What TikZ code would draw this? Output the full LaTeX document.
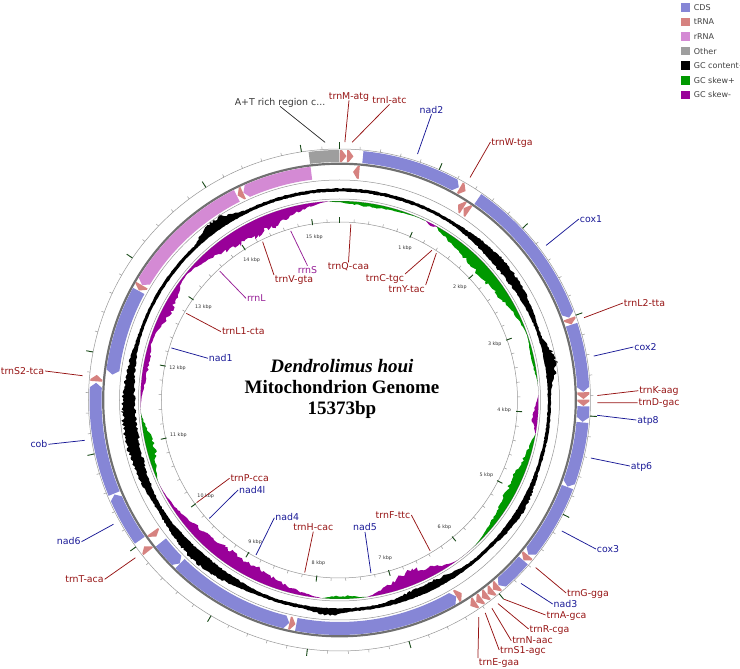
\documentclass[tikz,border=0pt]{standalone}
\usepackage{fontspec}
\usepackage{tikz}
\usetikzlibrary{positioning}
\newfontfamily\labelfont{DejaVu Sans}
\newfontfamily\titlefont{Liberation Serif}

\definecolor{cdsfill}{RGB}{134,134,214}
\definecolor{trnafill}{RGB}{214,130,128}
\definecolor{rrnafill}{RGB}{212,138,212}
\definecolor{otherfill}{RGB}{158,158,158}
\definecolor{skewplus}{RGB}{0,153,0}
\definecolor{skewminus}{RGB}{153,0,153}
\definecolor{trnatext}{RGB}{150,20,20}
\definecolor{cdstext}{RGB}{25,25,150}
\definecolor{rrnatext}{RGB}{150,30,150}
\definecolor{othertext}{RGB}{55,55,55}
\definecolor{ringgray}{RGB}{150,150,150}
\definecolor{backbonegray}{RGB}{112,112,112}
\definecolor{tickgreen}{RGB}{25,75,25}

\tikzset{
  ring/.style={draw=ringgray, line width=0.5pt},
  backbone/.style={draw=backbonegray, line width=2.2pt},
  minortick/.style={draw=ringgray, line width=0.5pt},
  majortick/.style={draw=tickgreen, line width=0.9pt},
  gene/.style={font=\labelfont\fontsize{9.4}{10}\selectfont, inner sep=0.8pt, text height=6.6pt, text depth=0pt},
  cdslabel/.style={gene, text=cdstext},
  trnalabel/.style={gene, text=trnatext},
  rrnalabel/.style={gene, text=rrnatext},
  otherlabel/.style={gene, text=othertext},
  cdsline/.style={draw=cdstext, line width=0.75pt},
  trnaline/.style={draw=trnatext, line width=0.75pt},
  rrnaline/.style={draw=rrnatext, line width=0.75pt},
  otherline/.style={draw=othertext, line width=0.75pt},
  kbplabel/.style={font=\labelfont\fontsize{4.8}{5}\selectfont, text=black!80, inner sep=0pt},
  title/.style={font=\titlefont\bfseries\fontsize{19}{22}\selectfont, inner sep=0pt},
  legbox/.style={minimum width=8.5pt, minimum height=8.5pt, inner sep=0pt},
  legtext/.style={font=\labelfont\fontsize{8}{9}\selectfont, text=black!75, inner sep=0pt, anchor=west}
}

% forward strand: outer slot, arrow points clockwise
\newcommand{\fwdfeat}[3]{%
  \pgfmathsetmacro{\angS}{90-0.0234177*#1}%
  \pgfmathsetmacro{\angE}{90-0.0234177*#2}%
  \pgfmathsetmacro{\angT}{min(\angE+1.1,\angS)}%
  \fill[#3] (\angS:250) arc[start angle=\angS,end angle=\angT,radius=250pt]
    -- (\angE:244) -- (\angT:238) arc[start angle=\angT,end angle=\angS,radius=238pt] -- cycle;}
% reverse strand: inner slot, arrow points counterclockwise
\newcommand{\revfeat}[3]{%
  \pgfmathsetmacro{\angS}{90-0.0234177*#1}%
  \pgfmathsetmacro{\angE}{90-0.0234177*#2}%
  \pgfmathsetmacro{\angT}{max(\angS-1.1,\angE)}%
  \fill[#3] (\angE:235) arc[start angle=\angE,end angle=\angT,radius=235pt]
    -- (\angS:228.5) -- (\angT:222) arc[start angle=\angT,end angle=\angE,radius=222pt] -- cycle;}

\begin{document}
\begin{tikzpicture}[x=1pt,y=1pt,
  declare function={
    bump(\xa,\xb,\xc)=max(0,1-((\xa-\xb)/\xc)^2)^2;
    gcup(\xa)=1.6+4*bump(\xa,52,20)+8*bump(\xa,80,8)+3.5*bump(\xa,122,14)+4*bump(\xa,183,7)+5*bump(\xa,222,20)+6*bump(\xa,262,28)+6*bump(\xa,-98,28)+8*bump(\xa,-35,9);
    gcdown(\xa)=1.6+3*bump(\xa,50,20)+5*bump(\xa,155,16)+3*bump(\xa,220,22)+4*bump(\xa,262,28)+4*bump(\xa,-98,28);
    skew(\xa)=3.5*bump(\xa,10,16)-4*bump(\xa,28,3)+11*bump(\xa,48,26)+3*bump(\xa,78,8)-5*bump(\xa,95,7)+9*bump(\xa,117,22)-13*bump(\xa,158,15)+3*bump(\xa,179,8)-13*bump(\xa,214,32)+8*bump(\xa,256,11)-5*bump(\xa,-80,13)-9*bump(\xa,-62,12)-15*bump(\xa,-28,27);
  }]
  \useasboundingbox (-339.5,-269) rectangle (400.5,400);
  \pgfmathsetseed{4321}

  % GC content and GC skew
  \fill[black] plot[domain=-93:267,samples=721] ({90-\x}:{210+gcup(\x)*(0.75+0.5*rnd)})
    -- plot[domain=267:-93,samples=721] ({90-\x}:{210-gcdown(\x)*(0.75+0.5*rnd)}) -- cycle;
  \fill[skewplus] plot[domain=-93:267,samples=541] ({90-\x}:199)
    -- plot[domain=267:-93,samples=541] ({90-\x}:{199-max(0,skew(\x))*(0.75+0.5*rnd)}) -- cycle;
  \fill[skewminus] plot[domain=-93:267,samples=541] ({90-\x}:199)
    -- plot[domain=267:-93,samples=541] ({90-\x}:{199+min(0,skew(\x))*(0.75+0.5*rnd)}) -- cycle;

  \draw[ring] (0,0) circle[radius=251pt];
  \draw[backbone] (0,0) circle[radius=236.3pt];
  \draw[ring] (0,0) circle[radius=220pt];
  \draw[ring] (0,0) circle[radius=201pt];
  \draw[ring] (0,0) circle[radius=178pt];

  \foreach \k in {0,200,...,15200} {
    \draw[minortick] ({90-0.0234177*\k}:251) -- ({90-0.0234177*\k}:254);
    \draw[minortick] ({90-0.0234177*\k}:178) -- ({90-0.0234177*\k}:181);
  }
  \foreach \k in {0,...,15} {
    \draw[majortick] ({90-23.41768*\k}:251) -- ({90-23.41768*\k}:258);
    \draw[majortick] ({90-23.41768*\k}:177) -- ({90-23.41768*\k}:183);
  }
  \foreach \k in {1,...,15}
    \node[kbplabel] (kbp\k) at ({90-23.41768*\k}:165) {\k{} kbp};

  % outer slot
  \fill[otherfill] (-262.9:250) arc[start angle=-262.9,end angle=-270,radius=250pt]
    -- (-270:238) arc[start angle=-270,end angle=-262.9,radius=238pt] -- cycle;
  \fwdfeat{5}{70}{trnafill}
  \fwdfeat{75}{140}{trnafill}
  \fwdfeat{235}{1250}{cdsfill}
  \fwdfeat{1262}{1328}{trnafill}
  \fwdfeat{1475}{3000}{cdsfill}
  \fwdfeat{3008}{3072}{trnafill}
  \fwdfeat{3075}{3760}{cdsfill}
  \fwdfeat{3765}{3833}{trnafill}
  \fwdfeat{3838}{3903}{trnafill}
  \fwdfeat{3906}{4062}{cdsfill}
  \fwdfeat{4068}{4730}{cdsfill}
  \fwdfeat{4735}{5520}{cdsfill}
  \fwdfeat{5528}{5595}{trnafill}
  \fwdfeat{5598}{5950}{cdsfill}
  \fwdfeat{5955}{6020}{trnafill}
  \fwdfeat{6025}{6090}{trnafill}
  \fwdfeat{6095}{6160}{trnafill}
  \fwdfeat{6165}{6230}{trnafill}
  \fwdfeat{6235}{6300}{trnafill}
  \fwdfeat{9890}{9955}{trnafill}
  \fwdfeat{10030}{10555}{cdsfill}
  \fwdfeat{10565}{11700}{cdsfill}
  \fwdfeat{11715}{11780}{trnafill}
  % inner slot
  \revfeat{145}{212}{trnafill}
  \revfeat{1335}{1400}{trnafill}
  \revfeat{1405}{1470}{trnafill}
  \revfeat{6305}{6372}{trnafill}
  \revfeat{6375}{8150}{cdsfill}
  \revfeat{8160}{8225}{trnafill}
  \revfeat{8228}{9575}{cdsfill}
  \revfeat{9578}{9880}{cdsfill}
  \revfeat{9960}{10025}{trnafill}
  \revfeat{11800}{12745}{cdsfill}
  \revfeat{12750}{12815}{trnafill}
  \revfeat{12818}{14230}{rrnafill}
  \revfeat{14240}{14305}{trnafill}
  \revfeat{14308}{15068}{rrnafill}

  \node[title] (species) at (2.5,34) {\itshape Dendrolimus houi};
  \node[title] (genome) at (2.5,13) {Mitochondrion Genome};
  \node[title] (length) at (2.5,-10) {15373bp};

  % labels outside
  \node[otherlabel] (atrich) at (-59.5,298) {A+T rich region c...}; \coordinate (atrichend) at (93.2:258); \draw[otherline] (atrich.south) -- (atrichend);
  \node[trnalabel] (trnM) at (9.5,304) {trnM-atg}; \coordinate (trnMend) at (88.8:258); \draw[trnaline] (trnM.south) -- (trnMend);
  \node[trnalabel] (trnI) at (50,300) {trnI-atc}; \coordinate (trnIend) at (87.2:258); \draw[trnaline] (trnI.south) -- (trnIend);
  \node[cdslabel] (nad2) at (92,290) {nad2}; \coordinate (nad2end) at (72.4:258); \draw[cdsline] (nad2.south) -- (nad2end);
  \node[trnalabel] (trnW) at (172.5,258) {trnW-tga}; \coordinate (trnWend) at (59.6:258); \draw[trnaline] (trnW.west) -- (trnWend);
  \node[cdslabel] (cox1) at (251.5,181) {cox1}; \coordinate (cox1end) at (36.8:258); \draw[cdsline] (cox1.west) -- (cox1end);
  \node[trnalabel] (trnL2) at (305,97) {trnL2-tta}; \coordinate (trnL2end) at (18.6:258); \draw[trnaline] (trnL2.west) -- (trnL2end);
  \node[cdslabel] (cox2) at (306,53) {cox2}; \coordinate (cox2end) at (9.8:258); \draw[cdsline] (cox2.west) -- (cox2end);
  \node[trnalabel] (trnK) at (319.5,9.3) {trnK-aag}; \coordinate (trnKend) at (1.0:258); \draw[trnaline] (trnK.west) -- (trnKend);
  \node[trnalabel] (trnD) at (319.5,-2.7) {trnD-gac}; \coordinate (trnDend) at (-0.6:258); \draw[trnaline] (trnD.west) -- (trnDend);
  \node[cdslabel] (atp8) at (308.5,-20) {atp8}; \coordinate (atp8end) at (-3.4:258); \draw[cdsline] (atp8.west) -- (atp8end);
  \node[cdslabel] (atp6) at (302,-66) {atp6}; \coordinate (atp6end) at (-13.0:258); \draw[cdsline] (atp6.west) -- (atp6end);
  \node[cdslabel] (cox3) at (268.5,-149) {cox3}; \coordinate (cox3end) at (-30.5:258); \draw[cdsline] (cox3.west) -- (cox3end);
  \node[trnalabel] (trnG) at (248.5,-193) {trnG-gga}; \coordinate (trnGend) at (-40.5:258); \draw[trnaline] (trnG.west) -- (trnGend);
  \node[cdslabel] (nad3) at (226,-204) {nad3}; \coordinate (nad3end) at (-45.3:258); \draw[cdsline] (nad3.west) -- (nad3end);
  \node[trnalabel] (trnA) at (227,-215) {trnA-gca}; \coordinate (trnAend) at (-50.5:258); \draw[trnaline] (trnA.west) -- (trnAend);
  \node[trnalabel] (trnR) at (210,-229) {trnR-cga}; \coordinate (trnRend) at (-52.1:258); \draw[trnaline] (trnR.west) -- (trnRend);
  \node[trnalabel] (trnN) at (193,-240.7) {trnN-aac}; \coordinate (trnNend) at (-53.8:258); \draw[trnaline] (trnN.west) -- (trnNend);
  \node[trnalabel] (trnS1) at (183.5,-250) {trnS1-agc}; \coordinate (trnS1end) at (-55.6:258); \draw[trnaline] (trnS1.west) -- (trnS1end);
  \node[trnalabel] (trnE) at (159.5,-262.3) {trnE-gaa}; \coordinate (trnEend) at (-57.3:258); \draw[trnaline] (trnE.north west) -- (trnEend);
  \node[trnalabel] (trnS2) at (-317,29) {trnS2-tca}; \coordinate (trnS2end) at (174.6:258); \draw[trnaline] (trnS2.east) -- (trnS2end);
  \node[cdslabel] (cob) at (-300.5,-44.3) {cob}; \coordinate (cobend) at (189.0:258); \draw[cdsline] (cob.east) -- (cobend);
  \node[cdslabel] (nad6) at (-270.8,-141.7) {nad6}; \coordinate (nad6end) at (208.8:258); \draw[cdsline] (nad6.east) -- (nad6end);
  \node[trnalabel] (trnT) at (-255,-179.3) {trnT-aca}; \coordinate (trnTend) at (217.7:258); \draw[trnaline] (trnT.east) -- (trnTend);

  % labels inside
  \node[trnalabel] (trnQ) at (9,133.3) {trnQ-caa}; \coordinate (trnQend) at (86.3:176); \draw[trnaline] (trnQ.north) -- (trnQend);
  \node[rrnalabel] (rrnS) at (-32,130) {rrnS}; \coordinate (rrnSend) at (106.1:176); \draw[rrnaline] (rrnS.north) -- (rrnSend);
  \node[trnalabel] (trnV) at (-45.5,120.7) {trnV-gta}; \coordinate (trnVend) at (115.9:176); \draw[trnaline] (trnV.north west) -- (trnVend);
  \node[trnalabel] (trnC) at (45.5,121.7) {trnC-tgc}; \coordinate (trnCend) at (58.3:176); \draw[trnaline] (trnC.north east) -- (trnCend);
  \node[trnalabel] (trnY) at (67.2,110.7) {trnY-tac}; \coordinate (trnYend) at (56.6:176); \draw[trnaline] (trnY.north east) -- (trnYend);
  \node[rrnalabel] (rrnL) at (-83.2,101.7) {rrnL}; \coordinate (rrnLend) at (132.9:176); \draw[rrnaline] (rrnL.west) -- (rrnLend);
  \node[trnalabel] (trnL1) at (-96.2,68.3) {trnL1-cta}; \coordinate (trnL1end) at (150.5:176); \draw[trnaline] (trnL1.west) -- (trnL1end);
  \node[cdslabel] (nad1) at (-118.7,41.7) {nad1}; \coordinate (nad1end) at (162.8:176); \draw[cdsline] (nad1.west) -- (nad1end);
  \node[trnalabel] (trnP) at (-89.8,-78.3) {trnP-cca}; \coordinate (trnPend) at (215.7:176); \draw[trnaline] (trnP.west) -- (trnPend);
  \node[cdslabel] (nad4l) at (-87.3,-90) {nad4l}; \coordinate (nad4lend) at (222.3:176); \draw[cdsline] (nad4l.west) -- (nad4lend);
  \node[cdslabel] (nad4) at (-52.3,-117.7) {nad4}; \coordinate (nad4end) at (241.7:176); \draw[cdsline] (nad4.west) -- (nad4end);
  \node[trnalabel] (trnH) at (-26.2,-127.3) {trnH-cac}; \coordinate (trnHend) at (258.6:176); \draw[trnaline] (trnH.south) -- (trnHend);
  \node[cdslabel] (nad5) at (25.5,-127.7) {nad5}; \coordinate (nad5end) at (280.3:176); \draw[cdsline] (nad5.south) -- (nad5end);
  \node[trnalabel] (trnF) at (53.5,-115) {trnF-ttc}; \coordinate (trnFend) at (301.0:176); \draw[trnaline] (trnF.east) -- (trnFend);

  % legend
  \node[legbox, fill=cdsfill] (boxcds) at (345.75,392.7) {};
  \node[legtext, right=4pt of boxcds] (legcds) {CDS};
  \node[legbox, fill=trnafill, below=5.7pt of boxcds] (boxtrna) {};
  \node[legtext, right=4pt of boxtrna] (legtrna) {tRNA};
  \node[legbox, fill=rrnafill, below=5.7pt of boxtrna] (boxrrna) {};
  \node[legtext, right=4pt of boxrrna] (legrrna) {rRNA};
  \node[legbox, fill=otherfill, below=5.7pt of boxrrna] (boxother) {};
  \node[legtext, right=4pt of boxother] (legother) {Other};
  \node[legbox, fill=black, below=5.7pt of boxother] (boxgc) {};
  \node[legtext, right=4pt of boxgc] (leggc) {GC content+};
  \node[legbox, fill=skewplus, below=5.7pt of boxgc] (boxplus) {};
  \node[legtext, right=4pt of boxplus] (legplus) {GC skew+};
  \node[legbox, fill=skewminus, below=5.7pt of boxplus] (boxminus) {};
  \node[legtext, right=4pt of boxminus] (legminus) {GC skew-};
\end{tikzpicture}
\end{document}
